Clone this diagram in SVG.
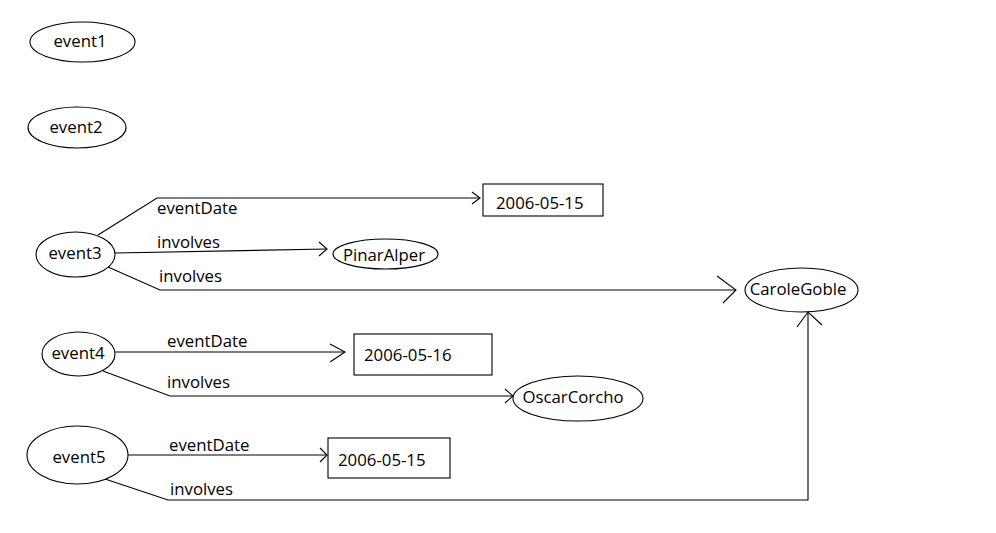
<svg xmlns="http://www.w3.org/2000/svg" width="996" height="533" viewBox="0 0 996 533">
<style>
.n{fill:#fff;stroke:#000;stroke-width:1.1}
.t{font-family:"Open Sans","Liberation Sans",sans-serif;font-size:16.8px;fill:#000}
.m{text-anchor:middle}
.c{fill:none;stroke:#000;stroke-width:1.1}
</style>
<rect width="996" height="533" fill="#fff"/>
<g id="connectors">
<polyline class="c" points="98,235 157,198 480,198"/>
<polyline class="c" points="472,192 480,198 472,204"/>
<text class="t" x="157" y="214">eventDate</text>
<polyline class="c" points="115,253 327,249"/>
<polyline class="c" points="319,242 327,249 319,256"/>
<text class="t" x="157" y="248">involves</text>
<polyline class="c" points="108,267 160,290 736,290"/>
<polyline class="c" points="717,276 736,290 723,303"/>
<text class="t" x="159" y="282">involves</text>
<polyline class="c" points="115,352 345,352"/>
<polyline class="c" points="330,344 345,352 330,362"/>
<text class="t" x="167" y="347">eventDate</text>
<polyline class="c" points="103,371 170,396 513,396"/>
<polyline class="c" points="505,389 513,396 505,403"/>
<text class="t" x="167" y="388">involves</text>
<polyline class="c" points="128,455 327,455"/>
<polyline class="c" points="320,448 327,455 320,462"/>
<text class="t" x="169" y="451">eventDate</text>
<polyline class="c" points="105,479 168,500 808,500 808,312"/>
<polyline class="c" points="797,327 808,312 822,325"/>
<text class="t" x="170" y="495">involves</text>
</g>
<g id="event1"><ellipse class="n" cx="82.5" cy="42" rx="52.5" ry="20"/><text class="t m" x="80" y="47">event1</text></g>
<g id="event2"><ellipse class="n" cx="77" cy="127.5" rx="49" ry="20.5"/><text class="t m" x="76" y="133">event2</text></g>
<g id="event3"><ellipse class="n" cx="75.5" cy="254.5" rx="39.5" ry="22.5"/><text class="t m" x="75" y="259">event3</text></g>
<g id="event4"><ellipse class="n" cx="78.5" cy="354" rx="36.5" ry="22"/><text class="t m" x="78" y="359">event4</text></g>
<g id="event5"><ellipse class="n" cx="77.5" cy="455" rx="50.5" ry="29"/><text class="t m" x="79" y="463">event5</text></g>
<g id="date1"><rect class="n" x="483" y="184" width="120" height="32"/><text class="t" x="496" y="209">2006-05-15</text></g>
<g id="PinarAlper"><ellipse class="n" cx="385.5" cy="254" rx="52.5" ry="15"/><text class="t m" x="384" y="261">PinarAlper</text></g>
<g id="CaroleGoble"><ellipse class="n" cx="801.5" cy="290" rx="56.5" ry="22"/><text class="t m" x="798" y="295">CaroleGoble</text></g>
<g id="date2"><rect class="n" x="354" y="334" width="138" height="41"/><text class="t" x="364" y="361">2006-05-16</text></g>
<g id="OscarCorcho"><ellipse class="n" cx="578" cy="398.5" rx="65" ry="22.5"/><text class="t m" x="573" y="403">OscarCorcho</text></g>
<g id="date3"><rect class="n" x="328" y="438" width="122" height="40"/><text class="t" x="338" y="466">2006-05-15</text></g>
</svg>
